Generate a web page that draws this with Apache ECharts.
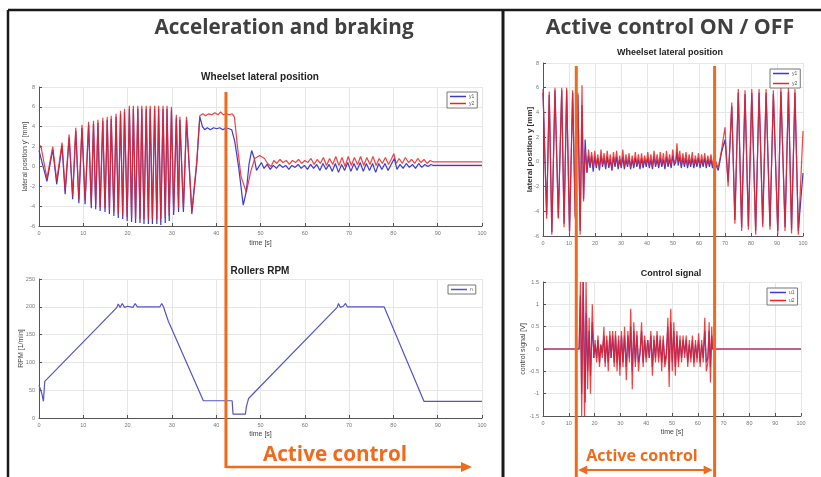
<!DOCTYPE html>
<html><head><meta charset="utf-8">
<script src="https://cdn.jsdelivr.net/npm/echarts@6/dist/echarts.min.js"></script>
<style>html,body{margin:0;padding:0;background:#fff}#c{width:821px;height:477px}</style>
</head><body><div id="c"></div>
<script>
// ---- tick labels ----
const timeTicks = [0,10,20,30,40,50,60,70,80,90,100];
const posTicks = [-6,-4,-2,0,2,4,6,8];
const rpmTicks = [0,50,100,150,200,250];
const ctrlTicks = [-1.5,-1,-0.5,0,0.5,1,1.5];

// ---- Acceleration and braking: wheelset lateral position [t, mm] ----
const accY1 = [[0,1.6],[0.4,1.8],[1.8,-1.5],[3.1,1.7],[4.0,-1.8],[5.2,2.1],[5.9,-2.8],[6.8,2.9],[7.6,-3.3],[8.3,3.6],[9.0,-3.7],[9.7,3.9],[10.4,-3.8],[11.2,4.2],[11.8,-4.2],[12.3,4.3],[12.8,-4.3],[13.3,4.4],[13.8,-4.5],[14.4,4.6],[14.9,-4.6],[15.4,4.7],[15.9,-4.8],[16.3,4.8],[16.9,-5.0],[17.4,5.0],[17.9,-5.2],[18.4,5.3],[18.9,-5.3],[19.3,5.5],[19.9,-5.5],[20.4,5.8],[20.9,-5.6],[21.3,5.8],[21.8,-5.7],[22.3,5.8],[22.8,-5.7],[23.2,5.8],[23.7,-5.8],[24.2,5.8],[24.7,-5.8],[25.1,5.8],[25.6,-5.8],[26.1,5.8],[26.6,-5.8],[27.0,5.8],[27.5,-5.9],[28.0,5.8],[28.5,-5.7],[28.9,5.8],[29.4,-5.5],[29.9,5.7],[30.4,-4.9],[31.0,4.9],[31.5,-4.6],[31.8,4.7],[32.6,-4.6],[33.3,4.7],[34.5,-4.8],[35.6,0.2],[36.3,5.0],[36.9,4.0],[37.4,3.7],[38.0,3.9],[38.7,3.7],[39.4,3.9],[40.1,3.8],[40.8,3.9],[41.5,3.7],[42.2,3.9],[42.9,3.8],[43.5,3.7],[44.2,2.5],[45.1,-0.2],[46.1,-3.9],[46.8,-2.5],[47.4,0.2],[48.0,1.6],[48.6,0.8],[49.1,-0.4],[50.2,0.4],[50.8,-0.2],[51.5,0.2],[52.2,-0.3],[52.9,0.1],[53.6,-0.2],[54.3,0.2],[55.0,-0.1],[55.7,0.1],[56.4,-0.3],[57.1,0.1],[57.8,-0.1],[58.5,0.2],[59.2,-0.2],[59.9,0.1],[60.6,-0.3],[61.3,0.2],[62.0,-0.2],[62.7,0.2],[63.4,-0.4],[64.1,0.3],[64.8,-0.3],[65.5,0.2],[66.2,-0.5],[66.9,0.3],[67.6,-0.6],[68.3,0.2],[69.0,-0.4],[69.7,0.4],[70.4,-0.5],[71.1,0.3],[71.8,-0.4],[72.5,0.4],[73.2,-0.5],[73.9,0.3],[74.6,-0.4],[75.3,0.3],[76.0,-0.6],[76.7,0.3],[77.4,-0.3],[78.1,0.3],[78.8,-0.4],[79.5,0.2],[80.2,0.8],[80.8,-0.3],[81.5,0.2],[82.2,-0.2],[82.9,0.3],[83.6,-0.1],[84.3,0.2],[85.0,-0.2],[85.7,0.3],[86.4,-0.1],[87.1,0.2],[87.8,0.0],[88.5,0.2],[89.0,0.1],[100,0.1]];
const accY2 = [[0,1.8],[0.4,2.1],[1.8,-1.2],[3.1,2.0],[4.0,-1.4],[5.2,2.4],[5.9,-2.4],[6.8,3.2],[7.6,-2.9],[8.3,3.9],[9.0,-3.3],[9.7,4.2],[10.4,-3.4],[11.2,4.5],[11.8,-3.8],[12.3,4.6],[12.8,-3.9],[13.3,4.7],[13.8,-4.1],[14.4,4.9],[14.9,-4.2],[15.4,5.0],[15.9,-4.4],[16.3,5.1],[16.9,-4.6],[17.4,5.3],[17.9,-4.8],[18.4,5.6],[18.9,-4.9],[19.3,5.8],[19.9,-5.1],[20.4,6.1],[20.9,-5.2],[21.3,6.1],[21.8,-5.3],[22.3,6.1],[22.8,-5.3],[23.2,6.1],[23.7,-5.3],[24.2,6.1],[24.7,-5.3],[25.1,6.1],[25.6,-5.3],[26.1,6.1],[26.6,-5.3],[27.0,6.1],[27.5,-5.3],[28.0,6.1],[28.5,-5.2],[28.9,6.1],[29.4,-5.0],[29.9,6.0],[30.4,-4.5],[31.0,5.2],[31.5,-4.2],[31.8,5.0],[32.6,-4.2],[33.3,5.0],[34.5,-4.5],[35.6,0.5],[36.3,5.1],[37.0,5.3],[37.6,5.1],[38.3,5.3],[39.0,5.2],[39.7,5.4],[40.4,5.2],[41.0,5.5],[41.6,5.2],[42.3,5.3],[43.0,5.2],[43.6,5.3],[44.1,5.0],[44.8,2.0],[45.6,-1.0],[46.8,-2.6],[47.8,-0.5],[48.7,0.8],[49.8,1.1],[50.9,0.8],[51.6,0.3],[52.4,0.0],[53.0,0.6],[53.7,0.3],[54.4,0.7],[55.1,0.4],[55.8,0.6],[56.5,0.2],[57.2,0.6],[57.9,0.4],[58.6,0.7],[59.3,0.3],[60.0,0.6],[60.7,0.4],[61.4,0.8],[62.1,0.2],[62.8,0.7],[63.5,0.3],[64.2,0.9],[64.9,0.1],[65.6,0.8],[66.3,0.2],[67.0,1.0],[67.7,0.1],[68.4,0.9],[69.1,0.0],[69.8,1.0],[70.5,0.1],[71.2,0.9],[71.9,0.2],[72.6,1.0],[73.3,0.1],[74.0,0.9],[74.7,0.2],[75.4,1.0],[76.1,0.1],[76.8,0.8],[77.5,0.3],[78.2,0.9],[78.9,0.2],[79.6,0.8],[80.1,1.3],[80.6,0.3],[81.3,0.8],[82.0,0.3],[82.7,0.9],[83.4,0.4],[84.1,0.7],[84.8,0.3],[85.5,0.8],[86.2,0.4],[86.9,0.7],[87.6,0.3],[88.3,0.6],[89.0,0.45],[100,0.45]];

// ---- Rollers RPM [t, 1/min] ----
const rollersRpm = [[0,59],[0.6,45],[1.0,30],[1.3,66],[17.5,198],[17.9,205],[18.3,199],[18.8,206],[19.3,199],[20,201],[21.2,199],[21.7,206],[22.2,200],[27.3,200],[27.7,206],[28.1,200],[28.6,188],[29.2,174],[37.1,31],[43.6,31],[43.8,7],[46.6,7],[46.8,20],[47.3,35],[67.3,199],[67.6,206],[68.0,199],[68.7,201],[69.2,206],[69.6,200],[75.4,200],[75.6,198],[75.8,200],[77.9,200],[86.9,30],[100,30]];

// ---- Active control ON/OFF: wheelset lateral position [t, mm] ----
const onoffY1 = [[0,5.6],[1.4,-4.3],[2.4,5.4],[3.4,-5.7],[4.6,5.8],[5.9,-4.5],[7.2,5.8],[8.1,-5.0],[9.1,5.8],[10.2,-5.6],[11.4,5.6],[12.4,-4.4],[13.4,5.4],[14.3,-5.6],[15.0,4.6],[15.6,-3.0],[16.2,1.8],[16.9,-0.9],[17.5,0.5],[18.1,-0.5],[18.7,0.5],[19.3,-0.8],[19.9,0.4],[20.5,-0.5],[21.1,0.3],[21.7,-0.7],[22.3,0.5],[22.9,-0.4],[23.5,0.3],[24.1,-0.6],[24.7,0.4],[25.3,-0.5],[25.9,0.2],[26.5,-0.7],[27.1,0.4],[27.7,-0.4],[28.3,0.4],[28.9,-0.6],[29.5,0.2],[30.1,-0.5],[30.7,0.4],[31.3,-0.6],[31.9,0.2],[32.5,-0.4],[33.1,0.3],[33.7,-0.6],[34.3,0.2],[34.9,-0.5],[35.5,0.3],[36.1,-0.4],[36.7,0.2],[37.3,-0.6],[37.9,0.3],[38.5,-0.5],[39.1,0.2],[39.7,-0.4],[40.3,0.3],[40.9,-0.5],[41.5,0.2],[42.1,-0.6],[42.7,0.4],[43.3,-0.4],[43.9,0.2],[44.5,-0.5],[45.1,0.3],[45.7,-0.4],[46.3,0.2],[46.9,-0.6],[47.5,0.4],[48.1,-0.4],[48.7,0.2],[49.3,-0.5],[49.9,0.5],[50.5,-0.3],[51.1,0.0],[51.5,0.8],[52.0,-0.3],[52.6,0.4],[53.2,-0.5],[53.8,0.3],[54.4,-0.4],[55.0,0.3],[55.6,-0.5],[56.2,0.2],[56.8,-0.4],[57.4,0.3],[58.0,-0.5],[58.6,0.2],[59.2,-0.4],[59.8,0.3],[60.4,-0.5],[61.0,0.2],[61.6,-0.4],[62.2,0.3],[62.8,-0.5],[63.4,0.2],[64.0,-0.4],[64.6,0.2],[65.2,-0.5],[65.8,0.1],[66.5,0.0],[67.4,-0.7],[68.7,0.8],[70.0,1.8],[71.2,-1.6],[72.6,4.5],[73.8,-4.7],[75.1,5.6],[76.4,-5.3],[77.7,5.5],[79.0,-5.2],[80.3,5.6],[81.8,-5.6],[83.1,5.6],[84.5,-5.0],[85.8,5.6],[87.3,-5.2],[88.6,5.5],[90.3,-5.6],[91.5,5.7],[93.1,-5.3],[94.4,5.7],[95.6,-5.5],[96.9,5.6],[98.2,-5.6],[100,-0.9]];
const onoffY2 = [[0,5.9],[1.4,-4.6],[2.4,5.7],[3.4,-5.9],[4.6,6.0],[5.9,-4.6],[7.2,6.0],[8.1,-5.3],[9.1,6.0],[10.2,-5.8],[11.4,5.8],[12.4,-4.6],[13.4,5.6],[14.3,-5.9],[15.0,6.2],[15.6,-3.2],[16.2,1.0],[16.9,-0.8],[17.5,1.0],[18.1,-0.2],[18.7,0.8],[19.3,-0.5],[19.9,0.9],[20.5,-0.3],[21.1,0.6],[21.7,-0.6],[22.3,1.0],[22.9,-0.2],[23.5,0.7],[24.1,-0.4],[24.7,0.9],[25.3,-0.3],[25.9,0.6],[26.5,-0.7],[27.1,0.8],[27.7,-0.2],[28.3,0.9],[28.9,-0.4],[29.5,0.5],[30.1,-0.3],[30.7,1.0],[31.3,-0.4],[31.9,0.6],[32.5,-0.2],[33.1,0.7],[33.7,-0.5],[34.3,0.5],[34.9,-0.3],[35.5,0.8],[36.1,-0.2],[36.7,0.6],[37.3,-0.4],[37.9,0.7],[38.5,-0.3],[39.1,0.5],[39.7,-0.2],[40.3,0.8],[40.9,-0.3],[41.5,0.6],[42.1,-0.4],[42.7,0.9],[43.3,-0.2],[43.9,0.6],[44.5,-0.3],[45.1,0.8],[45.7,-0.2],[46.3,0.7],[46.9,-0.4],[47.5,0.9],[48.1,-0.2],[48.7,0.6],[49.3,-0.3],[49.9,1.0],[50.5,-0.1],[51.1,0.2],[51.5,1.5],[52.0,0.0],[52.6,0.9],[53.2,-0.3],[53.8,0.7],[54.4,-0.2],[55.0,0.8],[55.6,-0.3],[56.2,0.6],[56.8,-0.2],[57.4,0.8],[58.0,-0.3],[58.6,0.5],[59.2,-0.2],[59.8,0.7],[60.4,-0.3],[61.0,0.6],[61.6,-0.2],[62.2,0.7],[62.8,-0.3],[63.4,0.5],[64.0,-0.2],[64.6,0.6],[65.2,-0.3],[65.8,0.4],[66.5,0.3],[67.4,-0.5],[68.7,1.0],[70.0,2.8],[71.2,-2.0],[72.6,4.8],[73.8,-5.0],[75.1,5.9],[76.4,-5.6],[77.7,5.8],[79.0,-5.5],[80.3,5.9],[81.8,-5.9],[83.1,5.9],[84.5,-5.3],[85.8,5.9],[87.3,-5.5],[88.6,5.8],[90.3,-5.9],[91.5,6.0],[93.1,-5.6],[94.4,6.0],[95.6,-5.8],[96.9,5.9],[98.2,-5.9],[100,2.5]];

// ---- Control signal [t, V] ----
const ctrlU1 = [[0,0],[14.0,0],[14.5,1.2],[15.0,-1.0],[15.6,1.5],[16.3,-1.2],[16.8,0.8],[17.3,-0.5],[17.9,0.4],[18.4,-0.6],[19.1,0.6],[19.7,-0.2],[20.2,0.1],[20.8,-0.2],[21.3,0.2],[21.9,-0.3],[22.4,0.1],[23.0,-0.1],[23.6,0.3],[24.1,-0.3],[24.7,0.2],[25.3,-0.3],[25.9,0.3],[26.4,-0.2],[27.0,0.3],[27.6,-0.3],[28.1,0.3],[28.7,-0.3],[29.3,0.2],[29.8,-0.4],[30.4,0.3],[31.0,-0.3],[31.6,0.3],[32.3,-0.4],[32.9,0.3],[33.5,-0.2],[34.0,0.5],[34.6,-0.5],[35.2,0.4],[35.8,-0.3],[36.4,0.3],[37.0,-0.3],[37.6,-0.1],[38.2,0.4],[38.8,-0.3],[39.4,0.2],[40.0,-0.2],[40.6,0.2],[41.2,-0.2],[41.8,0.3],[42.4,-0.4],[43.0,0.2],[43.6,-0.2],[44.2,0.3],[44.8,-0.2],[45.4,0.2],[46.0,-0.3],[46.6,0.2],[47.2,-0.3],[47.8,-0.1],[48.4,0.5],[48.9,-0.5],[49.5,0.6],[50.1,-0.3],[50.7,0.4],[51.3,-0.4],[51.9,0.3],[52.5,-0.3],[53.1,0.2],[53.7,-0.2],[54.3,0.2],[54.9,-0.1],[55.5,0.2],[56.1,-0.3],[56.7,0.1],[57.3,-0.2],[57.9,0.2],[58.5,-0.3],[59.1,0.1],[59.7,-0.2],[60.3,0.2],[60.9,-0.3],[61.5,0.1],[62.1,-0.2],[62.7,0.4],[63.3,-0.3],[63.9,-0.2],[64.4,0.4],[64.9,-0.4],[65.4,0.3],[65.7,0],[100,0]];
const ctrlU2 = [[0,0],[14.0,0],[14.5,1.5],[15.0,-1.5],[15.5,1.5],[16.1,-1.5],[16.7,1.5],[17.3,-0.9],[17.9,0.7],[18.4,-1.0],[19.1,1.0],[19.7,-0.2],[20.2,0.2],[20.8,-0.3],[21.3,0.3],[21.9,-0.4],[22.4,0.1],[23.0,-0.2],[23.6,0.5],[24.1,-0.4],[24.7,0.3],[25.3,-0.5],[25.9,0.4],[26.4,-0.2],[27.0,0.4],[27.6,-0.4],[28.1,0.4],[28.7,-0.5],[29.3,0.3],[29.8,-0.6],[30.4,0.4],[31.0,-0.4],[31.6,0.5],[32.3,-0.7],[32.9,0.4],[33.5,-0.3],[34.0,0.9],[34.6,-0.9],[35.2,0.6],[35.8,-0.4],[36.4,0.4],[37.0,-0.5],[37.6,-0.1],[38.2,0.6],[38.8,-0.4],[39.4,0.3],[40.0,-0.3],[40.6,0.2],[41.2,-0.2],[41.8,0.4],[42.4,-0.6],[43.0,0.3],[43.6,-0.3],[44.2,0.4],[44.8,-0.3],[45.4,0.3],[46.0,-0.5],[46.6,0.3],[47.2,-0.4],[47.8,-0.2],[48.4,0.7],[48.9,-0.85],[49.5,0.9],[50.1,-0.5],[50.7,0.6],[51.3,-0.6],[51.9,0.4],[52.5,-0.4],[53.1,0.3],[53.7,-0.3],[54.3,0.3],[54.9,-0.2],[55.5,0.3],[56.1,-0.4],[56.7,0.2],[57.3,-0.3],[57.9,0.3],[58.5,-0.4],[59.1,0.2],[59.7,-0.3],[60.3,0.35],[60.9,-0.4],[61.5,0.2],[62.1,-0.3],[62.7,0.7],[63.3,-0.5],[63.9,-0.3],[64.4,0.6],[64.9,-0.75],[65.4,0.5],[65.7,0],[100,0]];

// ---- annotation times ----
const accControlStart = 42.2;
const onoffControl = [12.8, 66.0];

const FONT = 'Liberation Sans';
const ORANGE = '#f06a1c';
const BLUE = '#3b3bcc';
const RED = '#f02020';

function xAx(g, name, gap) {
  return { type:'value', gridIndex:g, min:timeTicks[0], max:timeTicks[timeTicks.length-1], interval:timeTicks[1]-timeTicks[0],
    name:name, nameLocation:'middle', nameGap:gap, nameTextStyle:{fontSize:7, color:'#444', fontFamily:FONT},
    axisLine:{show:true, onZero:false, lineStyle:{color:'#555', width:1}},
    axisTick:{show:true, inside:true, length:3, lineStyle:{color:'#555'}},
    axisLabel:{fontSize:5.5, color:'#777', margin:4, fontFamily:FONT},
    splitLine:{show:true, lineStyle:{color:'#e6e6e6', width:1}} };
}
function yAx(g, ticks, name, gap, nameStyle) {
  return { type:'value', gridIndex:g, min:ticks[0], max:ticks[ticks.length-1], interval:ticks[1]-ticks[0],
    name:name, nameLocation:'middle', nameGap:gap, nameMoveOverlap:false,
    nameTextStyle:Object.assign({fontSize:7, color:'#444', fontFamily:FONT}, nameStyle||{}),
    axisLine:{show:true, onZero:false, lineStyle:{color:'#555', width:1}},
    axisTick:{show:true, inside:true, length:3, lineStyle:{color:'#555'}},
    axisLabel:{fontSize:5.5, color:'#777', margin:4, fontFamily:FONT},
    splitLine:{show:true, lineStyle:{color:'#e6e6e6', width:1}} };
}
function ln(name, xi, data, color, op) {
  return { type:'line', name:name, xAxisIndex:xi, yAxisIndex:xi, data:data, showSymbol:false, symbol:'none',
    lineStyle:{color:color, width:1.2, opacity:op==null?1:op}, itemStyle:{color:color}, animation:false, silent:true };
}
function lg(names, left, top, gap) {
  return { data:names, left:left, top:top, orient:'vertical', itemWidth:16, itemHeight:1.5, icon:'rect', itemGap:gap,
    padding:[2,3,2,3], borderColor:'#777', borderWidth:1, backgroundColor:'#fff', borderRadius:0,
    textStyle:{fontSize:5, color:'#555', fontFamily:FONT, padding:[0,0,0,-2]}, selectedMode:false };
}

const chart = echarts.init(document.getElementById('c'), null, {renderer:'canvas'});
chart.setOption({
  animation:false,
  backgroundColor:'#fff',
  grid:[
    {left:39, top:87, width:443, height:139, outerBoundsMode:'none'},
    {left:39, top:279, width:443, height:139, outerBoundsMode:'none'},
    {left:543, top:63, width:260, height:173, outerBoundsMode:'none'},
    {left:543, top:282, width:258, height:134, outerBoundsMode:'none'}
  ],
  xAxis:[ xAx(0,'time [s]',14), xAx(1,'time [s]',13), xAx(2,'',10), xAx(3,'time [s]',13) ],
  yAxis:[
    yAx(0,posTicks,"lateral position y' [mm]",10),
    yAx(1,rpmTicks,'RPM [1/min]',14),
    yAx(2,posTicks,'lateral position y [mm]',9,{fontSize:8, fontWeight:'bold', color:'#333'}),
    yAx(3,ctrlTicks,'control signal [V]',16)
  ],
  legend:[ lg(['y1','y2'],447,92,2), lg(['n'],448,285,1), lg(['y1','y2'],770,69,5), lg(['u1','u2'],767,288,3) ],
  series:[
    ln('y1',0,accY1,BLUE), ln('y2',0,accY2,RED,0.85),
    ln('n',1,rollersRpm,'#5454c4'),
    ln('y1',2,onoffY1,BLUE), ln('y2',2,onoffY2,RED,0.85),
    ln('u1',3,ctrlU1,BLUE), ln('u2',3,ctrlU2,RED,0.85)
  ]
});

// annotations
const xLeft = chart.convertToPixel({gridIndex:0}, [accControlStart, 0])[0];
const xR1 = chart.convertToPixel({gridIndex:2}, [onoffControl[0], 0])[0];
const xR2 = chart.convertToPixel({gridIndex:2}, [onoffControl[1], 0])[0];

function gl(x1,y1,x2,y2,color,w){ return {type:'line', z:100, shape:{x1:x1,y1:y1,x2:x2,y2:y2}, style:{stroke:color, lineWidth:w}, silent:true}; }
function gt(text,x,y,font,color){ return {type:'text', z:100, x:x, y:y, style:{text:text, font:font, fill:color, align:'center', verticalAlign:'middle'}, silent:true}; }
function gp(pts,color){ return {type:'polygon', z:100, shape:{points:pts}, style:{fill:color}, silent:true}; }

const yArrL = 467, yArrR = 470;
chart.setOption({
  graphic:[
    // frame
    gl(8,10,821,10,'#1a1a1a',2.5),
    gl(8,10,8,477,'#1a1a1a',2.5),
    gl(503,10,503,477,'#1a1a1a',3),
    // headers and chart titles
    gt('Acceleration and braking',284,28,'bold 20.7px "Open Sans"','#404040'),
    gt('Active control ON / OFF',670,28,'bold 21.3px "Open Sans"','#404040'),
    gt('Wheelset lateral position',260,77,'bold 10px "Liberation Sans"','#222'),
    gt('Rollers RPM',260,271,'bold 10px "Liberation Sans"','#222'),
    gt('Wheelset lateral position',670,53,'bold 9px "Liberation Sans"','#222'),
    gt('Control signal',671,274,'bold 9px "Liberation Sans"','#222'),
    // left annotation
    gl(xLeft,92,xLeft,yArrL+1,ORANGE,3),
    gl(xLeft,yArrL,462,yArrL,ORANGE,2.5),
    gp([[472,yArrL],[461,yArrL-5],[461,yArrL+5]],ORANGE),
    gt('Active control',335,455,'bold 20.7px "Open Sans"',ORANGE),
    // right annotation
    gl(xR1,66,xR1,477,ORANGE,3),
    gl(xR2,66,xR2,477,ORANGE,3),
    gl(xR1+8,yArrR,xR2-8,yArrR,ORANGE,2),
    gp([[xR1+2,yArrR],[xR1+11,yArrR-4.5],[xR1+11,yArrR+4.5]],ORANGE),
    gp([[xR2-2,yArrR],[xR2-11,yArrR-4.5],[xR2-11,yArrR+4.5]],ORANGE),
    gt('Active control',642,456,'bold 16px "Open Sans"',ORANGE)
  ]
});
</script></body></html>
